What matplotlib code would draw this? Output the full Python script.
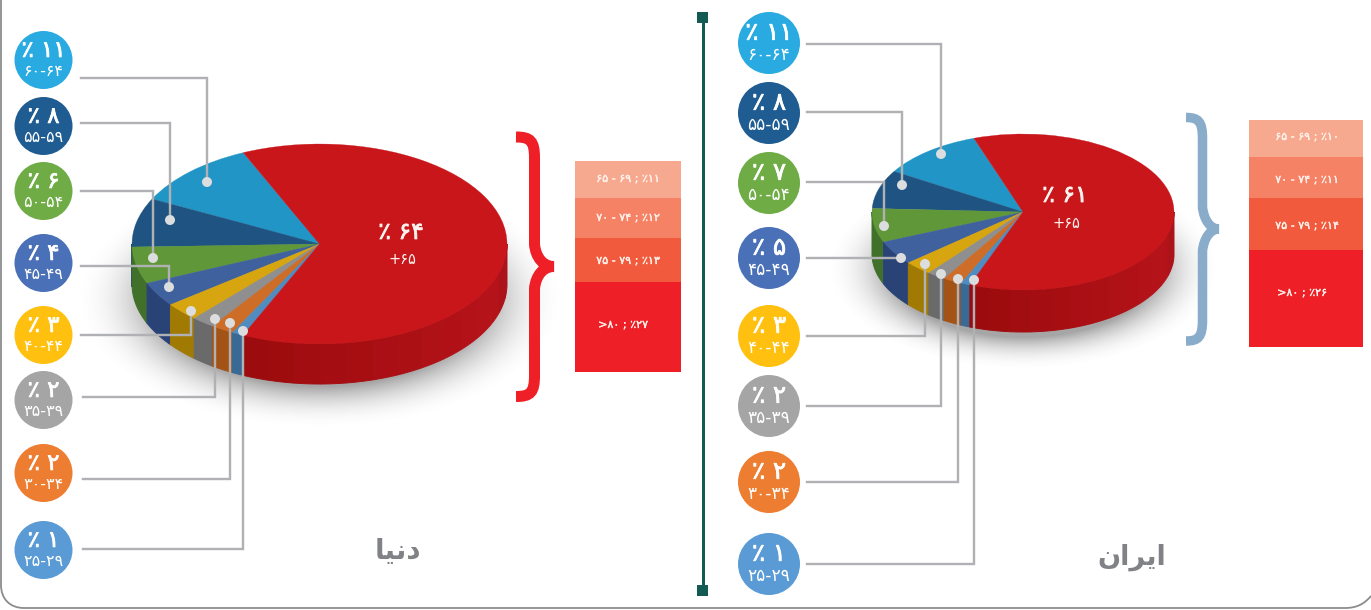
import numpy as np
import matplotlib
matplotlib.use("Agg")
import matplotlib.pyplot as plt
import matplotlib.patheffects as pe
from matplotlib.patches import Wedge, Polygon, Circle, Rectangle, PathPatch
from matplotlib.path import Path
from matplotlib.transforms import Affine2D
from matplotlib.colors import to_rgb

plt.rcParams['font.family'] = ['DejaVu Sans']

# ---------- data ----------
age_ranges = ['۶۰-۶۴', '۵۵-۵۹', '۵۰-۵۴', '۴۵-۴۹', '۴۰-۴۴', '۳۵-۳۹', '۳۰-۳۴', '۲۵-۲۹']
world_young = [11, 8, 6, 4, 3, 2, 2, 1]
world_old = 64
iran_young = [11, 8, 7, 5, 3, 2, 2, 1]
iran_old = 61
old_label = '+۶۵'
table_ranges = ['۶۵ - ۶۹', '۷۰ - ۷۴', '۷۵ - ۷۹', '>۸۰']
world_table = [11, 12, 13, 27]
iran_table = [10, 11, 14, 26]
# presentation forms in visual order: matplotlib does not shape Arabic script
world_title = '\uFE8E\uFBFF\uFEE7\uFEA9'   # دنیا
iran_title = '\uFEE5\uFE8D\uFEAE\uFBFE\uFE8D'  # ایران

# ---------- styles ----------
circle_colors = ['#29abe2', '#1f5c92', '#6fac46', '#4a70b7', '#ffc010', '#a5a5a5', '#ed7d31', '#5b9bd5']
top_colors = ['#2196c6', '#1f5482', '#5f9739', '#3f629f', '#d7a50f', '#8f8f8f', '#cd6d27', '#4f8cc0']
side_colors = ['#1a7aa3', '#173f63', '#41702b', '#2a4377', '#a17a03', '#6a6a6a', '#a35316', '#396a96']
red_top = '#c8161b'
table_colors = ['#f7a98f', '#f58265', '#f15a3c', '#ee1f26']
line_c = '#b0b1b5'
dot_c = '#dcddde'
fa = str.maketrans('0123456789', '۰۱۲۳۴۵۶۷۸۹')


def fa_num(v):
    return str(v).translate(fa)


W, H = 1371, 610
fig = plt.figure(figsize=(W / 100, H / 100), dpi=100)
ax = fig.add_axes([0, 0, 1, 1])
ax.set_xlim(0, W)
ax.set_ylim(H, 0)
ax.axis('off')
PX = 0.72


def heavy(color, w=0.55):
    return [pe.withStroke(linewidth=w, foreground=color)]


def shadow(cx, cy, rx, ry, peak):
    y0, y1 = int(cy - ry * 1.5), int(cy + ry * 1.5)
    x0, x1 = int(cx - rx * 1.5), int(cx + rx * 1.5)
    yy, xx = np.mgrid[y0:y1, x0:x1]
    d = np.hypot((xx - cx) / rx, (yy - cy) / ry)
    a = np.clip(1 - (d - 0.88) / 0.44, 0, 1) ** 2.2 * peak
    img = np.zeros(d.shape + (4,))
    img[..., :3] = 0.3
    img[..., 3] = a
    ax.imshow(img, extent=(x0, x1, y1, y0), zorder=1, interpolation='bilinear', aspect='auto')


def band(cx, cy, rx, ry, t, a1, a2, color, z):
    th = np.radians(np.linspace(a1, a2, 40))
    xs = cx + rx * np.cos(th)
    ys = cy - ry * np.sin(th)
    pts = np.r_[np.c_[xs, ys], np.c_[xs[::-1], ys[::-1] + t]]
    ax.add_patch(Polygon(pts, closed=True, fc=color, ec=color, lw=0.7, zorder=z))


def pie3d(young, old, cx, cy, rx, ry, t, start):
    tr = Affine2D().scale(rx, -ry).translate(cx, cy) + ax.transData
    total = sum(young) + old
    shadow(cx, cy + t + 14, rx, ry, 0.5)
    a = start
    for v, ct, cs in zip(young, top_colors, side_colors):
        b = a + v / total * 360
        ax.add_patch(Wedge((0, 0), 1, a, b, fc=ct, ec=ct, lw=0.2, transform=tr, zorder=4))
        if b > 180:
            band(cx, cy, rx, ry, t, max(a, 180), b, cs, 3)
        a = b
    # red slice with faceted side
    dark, light = np.array(to_rgb('#9c0b0d')), np.array(to_rgb('#b5131a'))
    edges = np.linspace(a, 360, 15)
    for i, (e0, e1) in enumerate(zip(edges[:-1], edges[1:])):
        f = i / 13
        col = dark + (light - dark) * min(f * 1.3, 1)
        if f > 0.85:
            col = col * 0.95
        band(cx, cy, rx, ry, t, e0, e1, tuple(col), 3)
    ax.add_patch(Wedge((0, 0), 1, a, start + 360, fc=red_top, ec=red_top, lw=0.2, transform=tr, zorder=4))


def badges(young, cx, r, ys):
    for rng, v, c, y in zip(age_ranges, young, circle_colors, ys):
        ax.add_patch(Circle((cx, y), r, fc=c, ec='none', zorder=6))
        ax.text(cx, y - r * 0.33, '٪ ' + fa_num(v), color='white', fontsize=16.5 * r / 29,
                ha='center', va='center', zorder=7, path_effects=heavy('white'))
        ax.text(cx, y + r * 0.40, rng, color='white', fontsize=11.5 * r / 29,
                ha='center', va='center', zorder=7)


def leaders(rows):
    for (x_start, y, x, y_dot) in rows:
        ax.plot([x_start, x, x], [y, y, y_dot], color=line_c, lw=2.4 * PX, zorder=5, solid_joinstyle='miter')
        ax.add_patch(Circle((x, y_dot), 5, fc=dot_c, ec='none', zorder=5.5))


def brace(x0, xm, x1, y0, ym, y1, lw, color):
    c = 17
    verts = [(x0, y0), (xm - 4, y0), (xm, y0 + 4), (xm, y0 + c + 4), (xm, ym - c - 6), (xm, ym - c), (xm + 4, ym), (x1, ym),
             (xm + 4, ym), (xm, ym + c), (xm, ym + c + 6), (xm, y1 - c - 4), (xm, y1 - 4), (xm - 4, y1), (x0, y1)]
    codes = [Path.MOVETO, Path.CURVE4, Path.CURVE4, Path.CURVE4, Path.LINETO, Path.CURVE4, Path.CURVE4, Path.CURVE4,
             Path.CURVE4, Path.CURVE4, Path.CURVE4, Path.LINETO, Path.CURVE4, Path.CURVE4, Path.CURVE4]
    ax.add_patch(PathPatch(Path(verts, codes), fc='none', ec=color, lw=lw * PX, capstyle='butt',
                           joinstyle='miter', zorder=3))


def stack(values, x0, x1, ytop, scale, text_pos):
    y = ytop
    for rng, v, c, (tx, ty) in zip(table_ranges, values, table_colors, text_pos):
        h = v * scale
        ax.add_patch(Rectangle((x0, y), x1 - x0, h, fc=c, ec='none', zorder=3))
        ax.text(tx, ty, rng + ' ; ' + '٪' + fa_num(v), color='#fff1ea', fontsize=8,
                ha='center', va='center', zorder=4, path_effects=heavy('#fff1ea', 0.25))
        y += h


# ---------- card outline and divider ----------
card = Path([(1, -2), (1, 585), (1, 599), (10, 608), (24, 608), (1345, 608), (1358, 608), (1365, 603), (1371, 596)],
            [Path.MOVETO, Path.LINETO, Path.CURVE4, Path.CURVE4, Path.CURVE4, Path.LINETO, Path.CURVE4, Path.CURVE4, Path.CURVE4])
ax.add_patch(PathPatch(card, fc='none', ec='#8a8c8e', lw=1.8 * PX, zorder=2))
ax.plot([703, 703], [17, 590], color='#125a53', lw=3 * PX, zorder=2, solid_capstyle='butt')
for ysq in (12, 585):
    ax.add_patch(Rectangle((697, ysq), 11, 11, fc='#125a53', ec='none', zorder=2))

# ---------- left: world ----------
pie3d(world_young, world_old, 319.5, 244, 187.5, 100, 40, 114)
badges(world_young, 43.5, 29, [60, 126, 191, 263, 335, 400, 473, 550])
leaders([(81, 78, 207, 182), (81, 123, 170, 220), (81, 191, 153, 258), (81, 266, 169, 287),
         (81, 335, 191, 311), (83, 397, 215, 319), (83, 479, 230, 323), (83, 549, 243, 331)])
ax.text(401, 232, '٪ ' + fa_num(world_old), color='#fdf3ee', fontsize=17, ha='center', va='center', zorder=5,
        path_effects=heavy('#fdf3ee'))
ax.text(402, 259, old_label, color='#fdf3ee', fontsize=10.5, ha='center', va='center', zorder=5)
brace(516, 534.5, 554, 137, 266.5, 396.5, 11, '#ee1f26')
stack(world_table, 575, 681, 161, 211 / sum(world_table), [(628, 179), (628, 218), (628, 261), (623, 325)])
ax.text(398, 551, world_title, color='#808285', fontsize=20, fontweight='bold', ha='center', va='center', zorder=3)

# ---------- right: iran ----------
pie3d(iran_young, iran_old, 1023, 212, 151, 78, 42, 109)
badges(iran_young, 769, 31, [43, 113, 183, 258, 336, 406, 482, 564])
leaders([(807, 44, 941, 154), (807, 112, 902, 185), (807, 182, 884, 226), (807, 258, 901, 258),
         (807, 336, 925, 264), (807, 406, 941, 274), (807, 482, 958, 279), (807, 564, 974, 280)])
ax.text(1065, 195, '٪ ' + fa_num(iran_old), color='#fdf3ee', fontsize=17, ha='center', va='center', zorder=5,
        path_effects=heavy('#fdf3ee'))
ax.text(1066, 223, old_label, color='#fdf3ee', fontsize=10.5, ha='center', va='center', zorder=5)
brace(1186, 1202.5, 1219, 117.5, 229, 341, 9.5, '#8aaccb')
stack(iran_table, 1249, 1363, 120, 227 / sum(iran_table), [(1307, 137), (1307, 180), (1307, 226), (1302, 293)])
ax.text(1132, 557, iran_title, color='#808285', fontsize=19.5, fontweight='bold', ha='center', va='center', zorder=3)

ax.set_xlim(0, W)
ax.set_ylim(H, 0)
fig.savefig('out.png', dpi=100, facecolor='white')
